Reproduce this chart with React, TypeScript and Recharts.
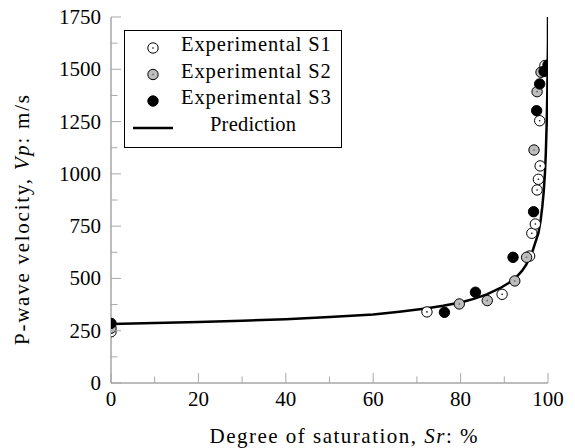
import React from 'react';
import { ComposedChart, Scatter, Line, XAxis, YAxis, Label } from 'recharts';

const xTicks = [0, 10, 20, 30, 40, 50, 60, 70, 80, 90, 100];
const xMajor = [0, 20, 40, 60, 80, 100];
const yTicks = [0, 125, 250, 375, 500, 625, 750, 875, 1000, 1125, 1250, 1375, 1500, 1625, 1750];
const yMajor = [0, 250, 500, 750, 1000, 1250, 1500, 1750];

const s1Data = [
  { sr: 0, vp: 245 }, { sr: 72.3, vp: 340 }, { sr: 89.5, vp: 424 }, { sr: 95.8, vp: 607 },
  { sr: 96.3, vp: 716 }, { sr: 97.1, vp: 760 }, { sr: 97.5, vp: 923 }, { sr: 97.8, vp: 974 },
  { sr: 98.2, vp: 1038 }, { sr: 98.1, vp: 1254 }, { sr: 98.9, vp: 1492 }, { sr: 99.3, vp: 1518 },
];
const s2Data = [
  { sr: 0, vp: 262 }, { sr: 79.7, vp: 378 }, { sr: 86.1, vp: 394 }, { sr: 92.4, vp: 488 },
  { sr: 95.1, vp: 601 }, { sr: 96.8, vp: 1114 }, { sr: 97.5, vp: 1393 }, { sr: 98.4, vp: 1486 },
];
const s3Data = [
  { sr: 0, vp: 285 }, { sr: 76.3, vp: 338 }, { sr: 83.4, vp: 434 }, { sr: 92.0, vp: 601 },
  { sr: 96.7, vp: 819 }, { sr: 97.4, vp: 1302 }, { sr: 98.1, vp: 1430 }, { sr: 99.1, vp: 1490 },
  { sr: 100, vp: 1521 },
];
const predData = [
  { sr: 0, vp: 282 }, { sr: 10, vp: 287 }, { sr: 20, vp: 292 }, { sr: 30, vp: 298 },
  { sr: 40, vp: 305 }, { sr: 50, vp: 315 }, { sr: 60, vp: 328 }, { sr: 66, vp: 341 },
  { sr: 72, vp: 356 }, { sr: 76, vp: 369 }, { sr: 80, vp: 385 }, { sr: 83, vp: 402 },
  { sr: 86, vp: 424 }, { sr: 89, vp: 453 }, { sr: 91, vp: 478 }, { sr: 92.5, vp: 500 },
  { sr: 94, vp: 535 }, { sr: 95, vp: 565 }, { sr: 96.3, vp: 620 }, { sr: 97, vp: 665 },
  { sr: 97.8, vp: 716 }, { sr: 98.3, vp: 775 }, { sr: 98.7, vp: 843 }, { sr: 99, vp: 910 },
  { sr: 99.3, vp: 1003 }, { sr: 99.5, vp: 1100 }, { sr: 99.7, vp: 1242 }, { sr: 99.85, vp: 1400 },
  { sr: 99.95, vp: 1550 }, { sr: 100, vp: 1640 }, { sr: 100, vp: 1750 },
];

const legendLabels = ['Experimental S1', 'Experimental S2', 'Experimental S3', 'Prediction'];

const FONT = "'Liberation Serif', monospace";
const AXIS = '#7a7a7a';
const TICK = '#a8a8a8';
const FS = 21;
const tStyle: React.CSSProperties = { fontFamily: FONT, fontSize: FS };

const makeDot = (fill: string, center: string | null) => (props: any) => {
  const { cx, cy } = props;
  return (
    <g>
      <circle cx={cx} cy={cy} r={5.2} fill={fill} stroke="#000" strokeWidth={1} />
      {center && <circle cx={cx} cy={cy} r={0.8} fill={center} />}
    </g>
  );
};

const BottomTick = (props: any) => {
  const { x, y, payload } = props;
  const v = payload.value;
  const major = xMajor.includes(v);
  return (
    <g>
      <line x1={x} x2={x} y1={y} y2={y - (major ? 10 : 6.5)} stroke={TICK} strokeWidth={1} />
      {major && (
        <text x={x} y={y + 23} textAnchor="middle" style={tStyle} fill="#000">
          {v}
        </text>
      )}
    </g>
  );
};

const TopTick = (props: any) => {
  const { x, y, payload } = props;
  const major = xMajor.includes(payload.value);
  return <line x1={x} x2={x} y1={y} y2={y + (major ? 10 : 6.5)} stroke={TICK} strokeWidth={1} />;
};

const LeftTick = (props: any) => {
  const { x, y, payload } = props;
  const v = payload.value;
  const major = yMajor.includes(v);
  return (
    <g>
      <line x1={x} x2={x + (major ? 10 : 6.5)} y1={y} y2={y} stroke={TICK} strokeWidth={1} />
      {major && (
        <text x={x - 10} y={y + 7} textAnchor="end" style={tStyle} fill="#000">
          {v}
        </text>
      )}
    </g>
  );
};

const RightTick = (props: any) => {
  const { x, y, payload } = props;
  const major = yMajor.includes(payload.value);
  return <line x1={x} x2={x - (major ? 10 : 6.5)} y1={y} y2={y} stroke={TICK} strokeWidth={1} />;
};

const XLabel = (props: any) => {
  const { viewBox } = props;
  const cx = viewBox.x + viewBox.width / 2 + 14;
  return (
    <text x={cx} y={viewBox.y + 60} textAnchor="middle" style={tStyle} fill="#000"
      textLength={268} lengthAdjust="spacing">
      Degree of saturation, <tspan fontStyle="italic">Sr</tspan>: %
    </text>
  );
};

const YLabel = (props: any) => {
  const { viewBox } = props;
  const cy = viewBox.y + viewBox.height / 2 + 20;
  const cx = 29;
  return (
    <text x={cx} y={cy} textAnchor="middle" style={tStyle} fill="#000"
      transform={`rotate(-90 ${cx} ${cy})`} textLength={250} lengthAdjust="spacing">
      P-wave velocity, <tspan fontStyle="italic">Vp</tspan>: m/s
    </text>
  );
};

const rowTop = [36, 62.5, 89, 116];

const LegendBox = () => (
  <div style={{ position: 'absolute', left: 124, top: 30, width: 216, height: 116, border: '1px solid #000',
    background: '#fff', fontFamily: FONT, fontSize: 20.5, lineHeight: '24px', color: '#000' }}>
    <svg width={60} height={116} style={{ position: 'absolute', left: 0, top: 0 }}>
      <circle cx={28} cy={17} r={5.2} fill="#fff" stroke="#000" />
      <circle cx={28} cy={17} r={0.8} fill="#000" />
      <circle cx={28} cy={43.5} r={5.2} fill="#bdbdbd" stroke="#000" />
      <circle cx={28} cy={43.5} r={0.8} fill="#555" />
      <circle cx={28} cy={70} r={5.2} fill="#000" stroke="#000" />
      <line x1={8} x2={48} y1={97} y2={97} stroke="#000" strokeWidth={2.5} />
    </svg>
    {legendLabels.map((t, i) => (
      <div key={t} style={{ position: 'absolute', left: i === 3 ? 85 : 56, top: rowTop[i] - 30 - 5,
        whiteSpace: 'nowrap', letterSpacing: i === 3 ? 0.2 : 0.9 }}>
        {t}
      </div>
    ))}
  </div>
);

export default function App() {
  return (
    <div style={{ position: 'absolute', left: 0, top: 0, width: 575, height: 448, background: '#fff', fontFamily: FONT }}>
      <ComposedChart width={575} height={448} margin={{ top: 17, right: 27, bottom: 0, left: 0 }}
        style={{ fontFamily: FONT }}>
        <XAxis xAxisId="b" orientation="bottom" type="number" dataKey="sr" domain={[0, 100]} ticks={xTicks}
          interval={0} tickSize={0} tickMargin={0} tickLine={false} axisLine={{ stroke: AXIS }}
          tick={<BottomTick />} height={65} allowDataOverflow>
          <Label content={<XLabel />} />
        </XAxis>
        <XAxis xAxisId="t" orientation="top" type="number" dataKey="sr" domain={[0, 100]} ticks={xTicks}
          interval={0} tickSize={0} tickMargin={0} tickLine={false} axisLine={{ stroke: AXIS }}
          tick={<TopTick />} height={0} allowDataOverflow />
        <YAxis yAxisId="l" orientation="left" type="number" dataKey="vp" domain={[0, 1750]} ticks={yTicks}
          interval={0} tickSize={0} tickMargin={0} tickLine={false} axisLine={{ stroke: AXIS }}
          tick={<LeftTick />} width={111} allowDataOverflow>
          <Label content={<YLabel />} />
        </YAxis>
        <YAxis yAxisId="r" orientation="right" type="number" dataKey="vp" domain={[0, 1750]} ticks={yTicks}
          interval={0} tickSize={0} tickMargin={0} tickLine={false} axisLine={{ stroke: AXIS }}
          tick={<RightTick />} width={0} allowDataOverflow />
        <Scatter xAxisId="b" yAxisId="l" data={s1Data} dataKey="vp" shape={makeDot('#fff', '#000')} isAnimationActive={false} />
        <Scatter xAxisId="b" yAxisId="l" data={s2Data} dataKey="vp" shape={makeDot('#bdbdbd', '#555')} isAnimationActive={false} />
        <Scatter xAxisId="b" yAxisId="l" data={s3Data} dataKey="vp" shape={makeDot('#000', null)} isAnimationActive={false} />
        <Line xAxisId="b" yAxisId="l" data={predData} dataKey="vp" type="linear" stroke="#000" strokeWidth={2.5}
          dot={false} activeDot={false} isAnimationActive={false} />
      </ComposedChart>
      <LegendBox />
    </div>
  );
}
